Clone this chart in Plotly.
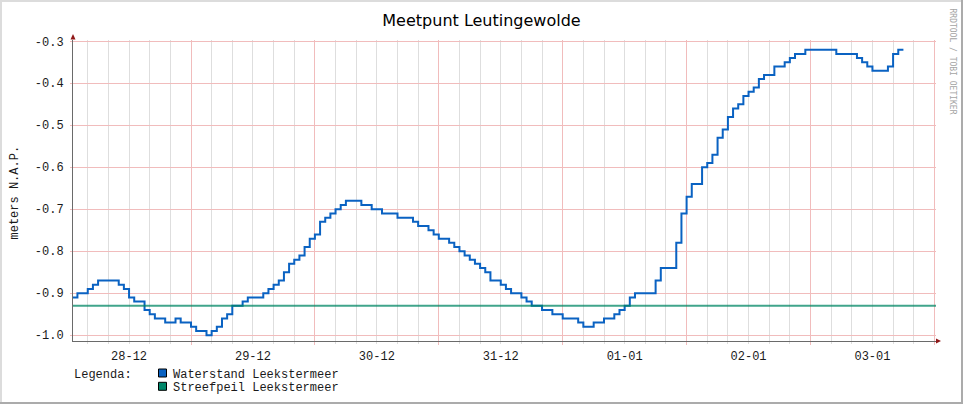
import plotly.graph_objects as go
import pandas as pd

# ---------------- data ----------------
BASE = "2015-12-28 00:00"
# hours after BASE at which the water level changes, and the level from then on
waterstand_hours = [1, 2, 4, 5, 6, 10, 11, 12, 13, 15,
                    16, 17, 19, 21, 22, 24, 25, 27, 28, 29,
                    30, 31, 32, 34, 35, 38, 39, 40, 41, 42,
                    43, 44, 45, 46, 47, 48, 49, 50, 51, 52,
                    53, 54, 57, 59, 61, 64, 67, 68, 70, 71,
                    72, 74, 75, 76, 77, 78, 79, 80, 81, 82,
                    84, 85, 86, 88, 89, 90, 92, 94, 96, 99,
                    100, 102, 104, 106, 107, 108, 109, 110, 114, 115,
                    118, 119, 120, 121, 123, 124, 125, 126, 127, 128,
                    129, 130, 131, 132, 133, 134, 135, 137, 139, 140,
                    141, 143, 149, 153, 154, 155, 156, 159, 160, 161,
                    162]
waterstand_values = [-0.91, -0.90, -0.89, -0.88, -0.87, -0.88, -0.89, -0.91, -0.92, -0.94,
                     -0.95, -0.96, -0.97, -0.96, -0.97, -0.98, -0.99, -1.00, -0.99, -0.98,
                     -0.96, -0.95, -0.93, -0.92, -0.91, -0.90, -0.89, -0.88, -0.87, -0.85,
                     -0.83, -0.82, -0.81, -0.79, -0.77, -0.76, -0.73, -0.72, -0.71, -0.70,
                     -0.69, -0.68, -0.69, -0.70, -0.71, -0.72, -0.73, -0.74, -0.75, -0.76,
                     -0.77, -0.78, -0.79, -0.80, -0.81, -0.82, -0.83, -0.84, -0.85, -0.87,
                     -0.88, -0.89, -0.90, -0.91, -0.92, -0.93, -0.94, -0.95, -0.96, -0.97,
                     -0.98, -0.97, -0.96, -0.95, -0.94, -0.93, -0.91, -0.90, -0.87, -0.84,
                     -0.78, -0.71, -0.67, -0.64, -0.60, -0.59, -0.57, -0.53, -0.51, -0.48,
                     -0.46, -0.45, -0.43, -0.42, -0.41, -0.39, -0.38, -0.36, -0.35, -0.34,
                     -0.33, -0.32, -0.33, -0.34, -0.35, -0.36, -0.37, -0.36, -0.33, -0.32,
                     -0.32]

streefpeil_times = ["2015-12-28 01:00", "2016-01-04 01:00"]
streefpeil_values = [-0.93, -0.93]

y_tickvals = [-1.0, -0.9, -0.8, -0.7, -0.6, -0.5, -0.4, -0.3]
y_ticktext = ["-1.0", "-0.9", "-0.8", "-0.7", "-0.6", "-0.5", "-0.4", "-0.3"]

x_range = ["2015-12-28 01:08:30", "2016-01-04 00:18:40"]
y_range = [-1.0138, -0.2969]

series_names = ["Waterstand Leekstermeer", "Streefpeil Leekstermeer"]

# ---------------- style ----------------
W, H = 963, 404
L, R, T, B = 73, 936, 40, 341
BLUE = "#0a62c2"
GREEN_BOX = "#00876a"
GREEN_LINE = "rgba(0,135,100,0.75)"
RED_GRID = "#f1bcbc"
GRAY_GRID = "#dedede"
AXIS = "#6a6a6a"
ARROW = "#901818"
MONO = "Liberation Mono"
TXT = "#1a1a1a"
FS = 12


def px(x):
    return (x - L) / (R - L)


def py(y):
    return (B - y) / (B - T)


times = pd.Timestamp(BASE) + pd.to_timedelta(waterstand_hours, unit="h")

fig = go.Figure()
fig.add_trace(go.Scatter(
    x=times, y=waterstand_values, mode="lines", name=series_names[0],
    line=dict(color=BLUE, width=2, shape="hv"), showlegend=False, hoverinfo="skip"))
fig.add_trace(go.Scatter(
    x=pd.to_datetime(streefpeil_times), y=streefpeil_values, mode="lines",
    name=series_names[1], line=dict(color=GREEN_LINE, width=2),
    showlegend=False, hoverinfo="skip"))

fig.update_xaxes(
    type="date", range=x_range, tickformat="%d-%m", ticklabelmode="period",
    dtick=86400000, tick0="2015-12-28", showgrid=True, gridcolor=RED_GRID,
    gridwidth=1, ticks="outside", ticklen=3, tickcolor=RED_GRID,
    showline=True, linecolor=AXIS, linewidth=1, zeroline=False,
    tickfont=dict(family=MONO, size=FS, color=TXT),
    ticklabelstandoff=1,
    minor=dict(dtick=4 * 3600000, tick0="2015-12-28", showgrid=True,
               gridcolor=GRAY_GRID, ticks="outside", ticklen=2,
               tickcolor=GRAY_GRID),
)
fig.update_yaxes(
    range=y_range, tickvals=y_tickvals, ticktext=y_ticktext,
    showgrid=True, gridcolor=RED_GRID, gridwidth=1, ticks="outside",
    ticklen=2, tickcolor=RED_GRID, showline=True, linecolor=AXIS,
    linewidth=1, zeroline=False, ticklabelstandoff=4,
    tickfont=dict(family=MONO, size=FS, color=TXT),
)

shapes = []
# frame
shapes.append(dict(type="rect", xref="paper", yref="paper", x0=px(0), x1=px(W),
                   y0=py(0), y1=py(2), fillcolor="#dcdcdc", line=dict(width=0)))
shapes.append(dict(type="rect", xref="paper", yref="paper", x0=px(0), x1=px(2),
                   y0=py(0), y1=py(H), fillcolor="#dcdcdc", line=dict(width=0)))
shapes.append(dict(type="rect", xref="paper", yref="paper", x0=px(W - 2), x1=px(W),
                   y0=py(0), y1=py(H), fillcolor="#ababab", line=dict(width=0)))
shapes.append(dict(type="rect", xref="paper", yref="paper", x0=px(0), x1=px(W),
                   y0=py(H - 2), y1=py(H), fillcolor="#ababab", line=dict(width=0)))
# axis arrows
shapes.append(dict(type="path", xref="paper", yref="paper",
                   path=f"M {px(936)} {py(338.5)} L {px(941)} {py(341)} L {px(936)} {py(343.5)} Z",
                   fillcolor=ARROW, line=dict(width=0)))
shapes.append(dict(type="path", xref="paper", yref="paper",
                   path=f"M {px(70.5)} {py(39.5)} L {px(73)} {py(34)} L {px(75.5)} {py(39.5)} Z",
                   fillcolor=ARROW, line=dict(width=0)))
# legend boxes
shapes.append(dict(type="rect", xref="paper", yref="paper", x0=px(158.5), x1=px(166.5),
                   y0=py(377), y1=py(369), fillcolor=BLUE, line=dict(color="black", width=1)))
shapes.append(dict(type="rect", xref="paper", yref="paper", x0=px(158.5), x1=px(166.5),
                   y0=py(390.3), y1=py(382.3), fillcolor=GREEN_BOX, line=dict(color="black", width=1)))

annotations = [
    dict(text="Legenda:", x=px(72), y=py(374.5), xref="paper", yref="paper",
         xanchor="left", yanchor="middle", showarrow=False,
         font=dict(family=MONO, size=FS, color=TXT)),
    dict(text=series_names[0], x=px(171), y=py(374.5), xref="paper", yref="paper",
         xanchor="left", yanchor="middle", showarrow=False,
         font=dict(family=MONO, size=FS, color=TXT)),
    dict(text=series_names[1], x=px(171), y=py(387.8), xref="paper", yref="paper",
         xanchor="left", yanchor="middle", showarrow=False,
         font=dict(family=MONO, size=FS, color=TXT)),
    dict(text="meters N.A.P.", x=px(14.5), y=py(192), xref="paper", yref="paper",
         xanchor="center", yanchor="middle", textangle=-90, showarrow=False,
         font=dict(family=MONO, size=FS, color=TXT)),
    dict(text="RRDTOOL / TOBI OETIKER", x=px(952.5), y=py(61), xref="paper", yref="paper",
         xanchor="center", yanchor="middle", textangle=90, showarrow=False,
         font=dict(family="DejaVu Sans Mono", size=8, color="#a4a4a4")),
]

fig.update_layout(
    width=W, height=H,
    margin=dict(l=L, r=W - R, t=T, b=H - B, pad=0),
    paper_bgcolor="white", plot_bgcolor="white",
    title=dict(text="Meetpunt Leutingewolde", x=0.5, xref="container",
               xanchor="center", y=1 - 20.5 / H, yref="container", yanchor="middle",
               font=dict(family="DejaVu Sans", size=16, color="black")),
    shapes=shapes, annotations=annotations, showlegend=False,
)

fig.write_html(
    "out.html",
    config={"displayModeBar": False},
    post_script="document.body.style.margin='0';document.body.style.padding='0';",
)
